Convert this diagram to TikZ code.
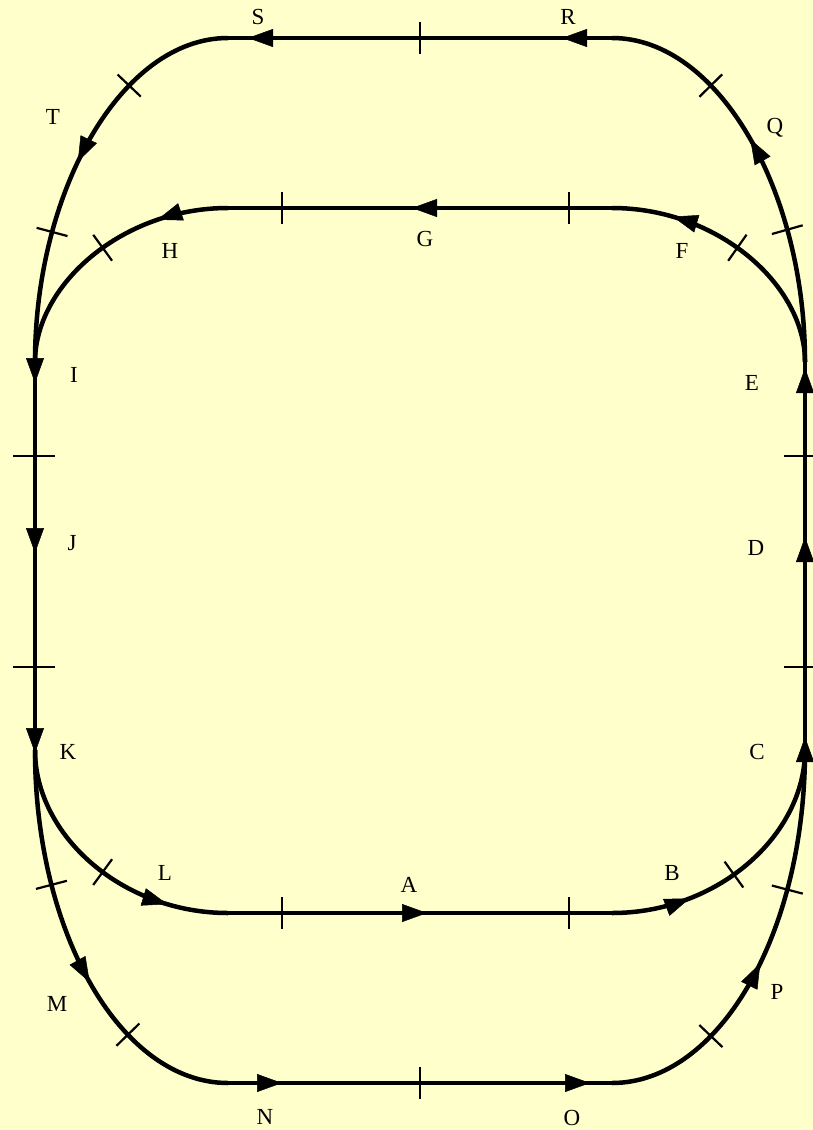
\documentclass[tikz,border=0pt]{standalone}
\usepackage{fontspec}
\setmainfont{Liberation Serif}
\usetikzlibrary{arrows.meta,calc}
\definecolor{bg}{HTML}{FFFFCC}
\newcommand\tickat[2]{\draw[tickmark] ($(#1)!16pt!90:(#2)$) -- ($(#1)!16pt!-90:(#2)$);}
\begin{document}
\begin{tikzpicture}[x=1pt,y=-1pt,
  track/.style={line width=4.5pt},
  tickmark/.style={line width=2.2pt},
  head/.style={line width=0.5pt,-{Triangle[length=25pt,width=18pt]}},
  lbl/.style={font=\fontsize{23}{26}\selectfont,inner sep=0pt,text depth=0pt}]
\fill[bg] (0,0) rectangle (813,1130);
\useasboundingbox (0,0) rectangle (813,1130);

% junction and corner points
\coordinate (iBL) at (228,913);
\coordinate (iBR) at (612,913);
\coordinate (iRB) at (805,750);
\coordinate (iRT) at (805,362);
\coordinate (iTR) at (612,208);
\coordinate (iTL) at (228,208);
\coordinate (iLT) at (35,362);
\coordinate (iLB) at (35,750);
\coordinate (oTR) at (612,38);
\coordinate (oTL) at (228,38);
\coordinate (oBL) at (228,1083);
\coordinate (oBR) at (612,1083);

% straight tracks
\draw[track] (iBL) -- (iBR);
\draw[track] (iRB) -- (iRT);
\draw[track] (iTR) -- (iTL);
\draw[track] (iLT) -- (iLB);
\draw[track] (oTR) -- (oTL);
\draw[track] (oBL) -- (oBR);

% curved tracks
\draw[track] (iBR) .. controls (718,913) and (805,835) .. (iRB)
  coordinate[pos=0.25] (b1) coordinate[pos=0.26] (b2)
  coordinate[pos=0.435] (tb1) coordinate[pos=0.445] (tb2);
\draw[track] (iRT) .. controls (805,285) and (718,208) .. (iTR)
  coordinate[pos=0.79] (f1) coordinate[pos=0.80] (f2)
  coordinate[pos=0.55] (tf1) coordinate[pos=0.56] (tf2);
\draw[track] (iTL) .. controls (122,208) and (35,285) .. (iLT)
  coordinate[pos=0.225] (h1) coordinate[pos=0.235] (h2)
  coordinate[pos=0.45] (th1) coordinate[pos=0.46] (th2);
\draw[track] (iLB) .. controls (35,835) and (122,913) .. (iBL)
  coordinate[pos=0.79] (l1) coordinate[pos=0.80] (l2)
  coordinate[pos=0.55] (tl1) coordinate[pos=0.56] (tl2);
\draw[track] (iLB) .. controls (35,935) and (122,1083) .. (oBL)
  coordinate[pos=0.48] (m1) coordinate[pos=0.49] (m2)
  coordinate[pos=0.26] (tm1) coordinate[pos=0.27] (tm2)
  coordinate[pos=0.655] (tm3) coordinate[pos=0.665] (tm4);
\draw[track] (oBR) .. controls (718,1083) and (805,935) .. (iRB)
  coordinate[pos=0.55] (p1) coordinate[pos=0.56] (p2)
  coordinate[pos=0.34] (tp1) coordinate[pos=0.35] (tp2)
  coordinate[pos=0.73] (tp3) coordinate[pos=0.74] (tp4);
\draw[track] (iRT) .. controls (805,190) and (718,38) .. (oTR)
  coordinate[pos=0.48] (q1) coordinate[pos=0.49] (q2)
  coordinate[pos=0.27] (tq1) coordinate[pos=0.28] (tq2)
  coordinate[pos=0.66] (tq3) coordinate[pos=0.67] (tq4);
\draw[track] (oTL) .. controls (122,38) and (35,190) .. (iLT)
  coordinate[pos=0.56] (t1) coordinate[pos=0.57] (t2)
  coordinate[pos=0.34] (tt1) coordinate[pos=0.35] (tt2)
  coordinate[pos=0.735] (tt3) coordinate[pos=0.745] (tt4);

% ticks on curves
\tickat{tb1}{tb2}
\tickat{tf1}{tf2}
\tickat{th1}{th2}
\tickat{tl1}{tl2}
\tickat{tm1}{tm2}
\tickat{tm3}{tm4}
\tickat{tp1}{tp2}
\tickat{tp3}{tp4}
\tickat{tq1}{tq2}
\tickat{tq3}{tq4}
\tickat{tt1}{tt2}
\tickat{tt3}{tt4}

% ticks on straights
\draw[tickmark] (282,897) -- (282,929);
\draw[tickmark] (569,897) -- (569,929);
\draw[tickmark] (282,192) -- (282,224);
\draw[tickmark] (569,192) -- (569,224);
\draw[tickmark] (420,22) -- (420,54);
\draw[tickmark] (420,1067) -- (420,1099);
\draw[tickmark] (13,456) -- (55,456);
\draw[tickmark] (13,667) -- (55,667);
\draw[tickmark] (784,456) -- (826,456);
\draw[tickmark] (784,667) -- (826,667);

% arrowheads on curves
\draw[head] (b1) -- (b2);
\draw[head] (f1) -- (f2);
\draw[head] (h1) -- (h2);
\draw[head] (l1) -- (l2);
\draw[head] (m1) -- (m2);
\draw[head] (p1) -- (p2);
\draw[head] (q1) -- (q2);
\draw[head] (t1) -- (t2);

% arrowheads on straights
\coordinate (a1) at (420,913);  \coordinate (a2) at (427,913);
\coordinate (g1) at (419,208);  \coordinate (g2) at (412,208);
\coordinate (s1) at (255,38);   \coordinate (s2) at (248,38);
\coordinate (r1) at (569,38);   \coordinate (r2) at (562,38);
\coordinate (n1) at (275,1083); \coordinate (n2) at (282,1083);
\coordinate (o1) at (583,1083); \coordinate (o2) at (590,1083);
\coordinate (i1) at (35,376);   \coordinate (i2) at (35,383);
\coordinate (j1) at (35,546);   \coordinate (j2) at (35,553);
\coordinate (k1) at (35,746);   \coordinate (k2) at (35,753);
\coordinate (e1) at (805,375);  \coordinate (e2) at (805,368);
\coordinate (d1) at (805,544);  \coordinate (d2) at (805,537);
\coordinate (c1) at (805,744);  \coordinate (c2) at (805,737);
\foreach \u in {a,g,s,r,n,o,i,j,k,e,d,c}{\draw[head] (\u1) -- (\u2);}

% labels
\node[lbl] (lS) at (258,17) {S};
\node[lbl] (lR) at (568,17) {R};
\node[lbl] (lT) at (53,117) {T};
\node[lbl] (lQ) at (775,126) {Q};
\node[lbl] (lH) at (170,251) {H};
\node[lbl] (lG) at (425,239) {G};
\node[lbl] (lF) at (682,251) {F};
\node[lbl] (lI) at (74,375) {I};
\node[lbl] (lE) at (752,383) {E};
\node[lbl] (lJ) at (72,543) {J};
\node[lbl] (lD) at (756,548) {D};
\node[lbl] (lK) at (68,752) {K};
\node[lbl] (lC) at (757,752) {C};
\node[lbl] (lL) at (165,873) {L};
\node[lbl] (lA) at (409,885) {A};
\node[lbl] (lB) at (672,873) {B};
\node[lbl] (lM) at (57,1004) {M};
\node[lbl] (lP) at (777,992) {P};
\node[lbl] (lN) at (265,1117) {N};
\node[lbl] (lO) at (572,1118) {O};
\end{tikzpicture}
\end{document}
